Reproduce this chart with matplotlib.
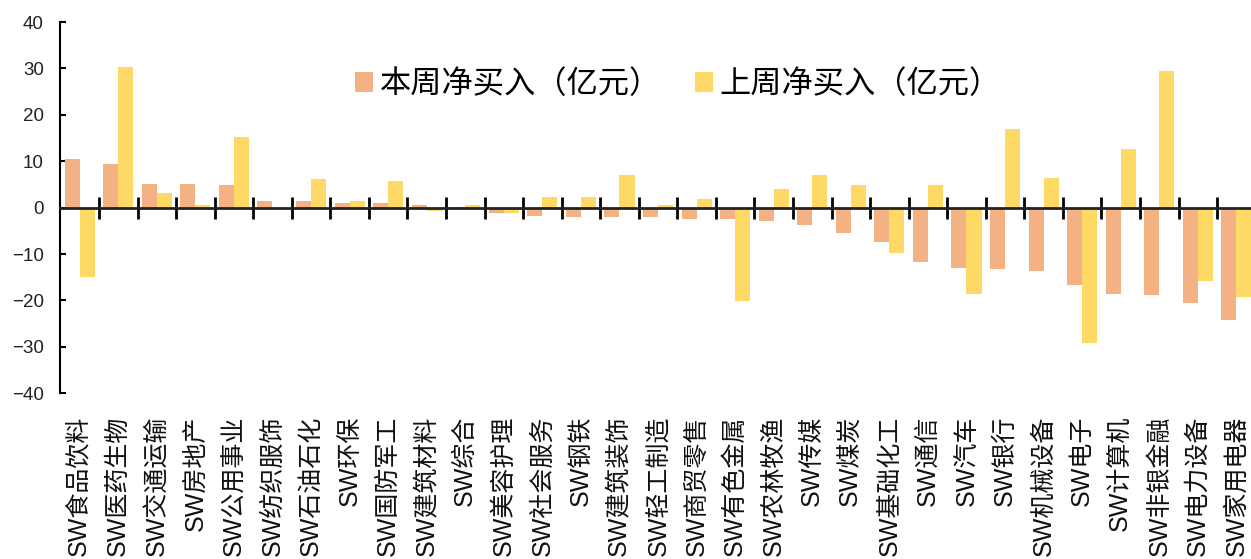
import matplotlib
matplotlib.use("Agg")
import matplotlib.pyplot as plt
import matplotlib.transforms as mtransforms
import numpy as np

plt.rcParams['font.family'] = ['Liberation Sans', 'Noto Sans CJK SC', 'DejaVu Sans']
plt.rcParams['axes.unicode_minus'] = True

industries = ['SW食品饮料', 'SW医药生物', 'SW交通运输', 'SW房地产', 'SW公用事业',
              'SW纺织服饰', 'SW石油石化', 'SW环保', 'SW国防军工', 'SW建筑材料',
              'SW综合', 'SW美容护理', 'SW社会服务', 'SW钢铁', 'SW建筑装饰',
              'SW轻工制造', 'SW商贸零售', 'SW有色金属', 'SW农林牧渔', 'SW传媒',
              'SW煤炭', 'SW基础化工', 'SW通信', 'SW汽车', 'SW银行',
              'SW机械设备', 'SW电子', 'SW计算机', 'SW非银金融', 'SW电力设备',
              'SW家用电器']
this_week = [10.4, 9.5, 5.2, 5.2, 4.8,
             1.4, 1.4, 0.9, 0.9, 0.5,
             0.1, -1.1, -1.7, -2.1, -2.1,
             -2.1, -2.5, -2.5, -2.9, -3.8,
             -5.5, -7.3, -11.6, -12.9, -13.3,
             -13.7, -16.7, -18.5, -18.9, -20.6,
             -24.1]
last_week = [-15.0, 30.3, 3.1, 0.5, 15.2,
             -0.2, 6.1, 1.4, 5.7, -0.8,
             0.5, -1.1, 2.2, 2.2, 7.0,
             0.5, 1.8, -20.2, 4.0, 7.0,
             4.8, -9.8, 4.8, -18.5, 16.9,
             6.5, -29.2, 12.6, 29.4, -15.9,
             -19.3]
series_names = ['本周净买入（亿元）', '上周净买入（亿元）']
yticks = [-40, -30, -20, -10, 0, 10, 20, 30, 40]

fig = plt.figure(figsize=(12.51, 5.59), dpi=100)
ax = fig.add_axes([0.0483, 0.2964, 0.9554, 0.6642])

x = np.arange(len(industries))
w = 0.39
ax.bar(x - w / 2, this_week, w, color='#F4B183', label=series_names[0], zorder=2)
ax.bar(x + w / 2, last_week, w, color='#FFD966', label=series_names[1], zorder=2)

ax.set_xlim(-0.5, len(industries) - 0.5)
ax.set_ylim(-40, 40)
ax.set_yticks(yticks)
ax.tick_params(axis='y', direction='in', length=4, width=1.5, pad=12,
               labelsize=13.5, colors='#000000')
for lab in ax.get_yticklabels():
    lab.set_color('#222222')

# category axis sits on zero, ticks mark group boundaries
ax.spines['bottom'].set_position(('data', 0))
ax.spines['bottom'].set_linewidth(2)
ax.spines['bottom'].set_color('#222222')
ax.spines['bottom'].set_zorder(3)
ax.spines['left'].set_linewidth(1.5)
ax.spines['top'].set_visible(False)
ax.spines['right'].set_visible(False)
ax.set_xticks(np.arange(0.5, len(industries) - 0.5, 1.0))
ax.set_xticklabels([])
ax.tick_params(axis='x', direction='inout', length=16, width=2, colors='#000000')

trans = mtransforms.blended_transform_factory(ax.transData, ax.transAxes)
for i, name in enumerate(industries):
    ax.text(i, -0.060, name, transform=trans, rotation=90, ha='center', va='top',
            fontsize=18, color='#111111', clip_on=False)

ax.legend(loc='center left', bbox_to_anchor=(0.2838, 0.8497), bbox_transform=fig.transFigure,
          ncol=2, frameon=False, prop={'family': ['Noto Sans CJK SC'], 'size': 22.5},
          borderpad=0, borderaxespad=0,
          handlelength=0.58, handleheight=0.58, handletextpad=0.2, columnspacing=1.1)

fig.savefig('out.png', dpi=100)
